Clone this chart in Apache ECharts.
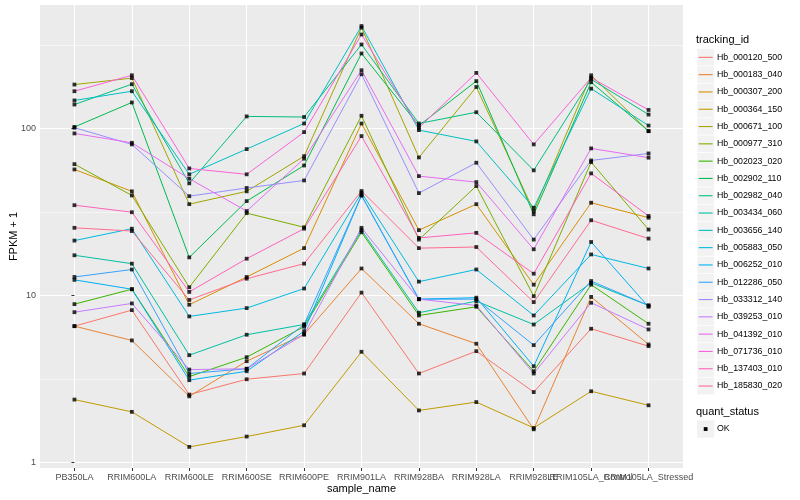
<!DOCTYPE html>
<html><head><meta charset="utf-8">
<script src="https://cdn.jsdelivr.net/npm/echarts@6/dist/echarts.min.js"></script>
<style>html,body{margin:0;padding:0;background:#fff}#c{width:800px;height:500px}</style>
</head><body><div id="c"></div>
<script>
const samples = ['PB350LA','RRIM600LA','RRIM600LE','RRIM600SE','RRIM600PE','RRIM901LA','RRIM928BA','RRIM928LA','RRIM928LE','RRIM105LA_Control','RRIM105LA_Stressed'];
const trackingIds = ['Hb_000120_500','Hb_000183_040','Hb_000307_200','Hb_000364_150','Hb_000671_100','Hb_000977_310','Hb_002023_020','Hb_002902_110','Hb_002982_040','Hb_003434_060','Hb_003656_140','Hb_005883_050','Hb_006252_010','Hb_012286_050','Hb_033312_140','Hb_039253_010','Hb_041392_010','Hb_071736_010','Hb_137403_010','Hb_185830_020'];
const quantStatus = ['OK'];
const yTicks = [1, 10, 100];
const yMinorTicks = [3.1623, 31.623, 316.23];

// FPKM + 1 per sample, in sample order
const Hb_000120_500 = [6.55, 8.17, 2.55, 3.15, 3.41, 10.4, 3.41, 4.64, 2.64, 6.32, 4.97];
const Hb_000183_040 = [6.55, 5.38, 2.49, 4.04, 5.84, 14.5, 6.77, 5.14, 1.58, 9.8, 5.09];
const Hb_000307_200 = [56.8, 42, 8.8, 12.9, 19.2, 107, 24.6, 35.2, 11.6, 35.9, 29.2];
const Hb_000364_150 = [2.38, 2.01, 1.24, 1.43, 1.67, 4.6, 2.05, 2.30, 1.61, 2.67, 2.20];
const Hb_000671_100 = [183, 200, 35.2, 42, 68.2, 401, 67, 177, 32, 208, 96.3];
const Hb_000977_310 = [61.1, 39.7, 11.2, 31.1, 25.6, 119, 21.6, 45.2, 9.9, 62.8, 24.8];
const Hb_002023_020 = [8.87, 10.9, 3.27, 4.27, 6.5, 23.9, 7.59, 8.55, 3.52, 11.6, 6.77];
const Hb_002902_110 = [102, 143, 16.9, 36.7, 60, 281, 104, 192, 30.6, 189, 96.3];
const Hb_002982_040 = [139, 184, 46.9, 118, 117, 318, 107, 125, 56.1, 197, 121];
const Hb_003434_060 = [17.4, 15.5, 4.39, 5.82, 6.7, 24.6, 7.88, 9.25, 6.7, 11.9, 8.71];
const Hb_003656_140 = [147, 167, 53.1, 75.2, 107, 410, 97.7, 83.6, 33.5, 173, 104];
const Hb_005883_050 = [21.3, 25.1, 7.49, 8.4, 11, 41.2, 12.1, 14.3, 7.59, 17.6, 14.5];
const Hb_006252_010 = [12.4, 10.9, 3.11, 3.52, 6.11, 39.7, 9.5, 9.7, 3.77, 20.9, 8.55];
const Hb_012286_050 = [12.9, 14.3, 3.41, 3.64, 6.7, 39.7, 9.5, 9.5, 5.04, 12.2, 8.71];
const Hb_033312_140 = [101, 80.2, 39.3, 44, 48.8, 211, 41, 62.3, 21.6, 64.3, 70.8];
const Hb_039253_010 = [7.94, 8.96, 3.6, 3.64, 5.84, 25.4, 9.5, 8.71, 3.41, 9.04, 6.26];
const Hb_041392_010 = [93.3, 82, 50, 32, 65.9, 223, 51.8, 47.7, 18.9, 75.9, 66.8];
const Hb_071736_010 = [167, 208, 57.6, 53.1, 95, 365, 101, 215, 80.2, 201, 129];
const Hb_137403_010 = [34.7, 31.5, 10.5, 16.6, 25.1, 90, 22.1, 23.7, 13.5, 53.8, 29.9];
const Hb_185830_020 = [25.4, 24.3, 9.4, 12.6, 15.5, 42.2, 19.2, 19.5, 9.12, 28.2, 21.9];

const seriesValues = [Hb_000120_500, Hb_000183_040, Hb_000307_200, Hb_000364_150, Hb_000671_100, Hb_000977_310, Hb_002023_020, Hb_002902_110, Hb_002982_040, Hb_003434_060, Hb_003656_140, Hb_005883_050, Hb_006252_010, Hb_012286_050, Hb_033312_140, Hb_039253_010, Hb_041392_010, Hb_071736_010, Hb_137403_010, Hb_185830_020];

const palette = ['#F8766D','#EA8331','#D89000','#C09B00','#A3A500','#7CAE00','#39B600','#00BB4E','#00BF7D','#00C1A3','#00BFC4','#00BAE0','#00B0F6','#35A2FF','#9590FF','#C77CFF','#E76BF3','#FA62DB','#FF62BC','#FF6C91'];

const FONT = '"Liberation Sans", Arial, Helvetica, sans-serif';
const chart = echarts.init(document.getElementById('c'), null, {renderer: 'canvas', width: 800, height: 500});

const idx = samples.map((_, i) => i);
// labels split over two axes so that overlapping neighbours are all drawn, as in the reference
const idxLabelsA = idx.filter(i => i !== 9);
const idxLabelsB = [9];

const lineSeries = trackingIds.map((id, k) => ({
  type: 'line', name: id,
  data: seriesValues[k].map((v, i) => [i, v]),
  showSymbol: false, symbol: 'none',
  lineStyle: {color: palette[k], width: 1},
  itemStyle: {color: palette[k]},
  silent: true, z: 2, animation: false
}));
const pts = [];
seriesValues.forEach(arr => arr.forEach((v, i) => pts.push([i, v])));
const pointSeries = {
  type: 'scatter', name: quantStatus[0], data: pts,
  symbol: 'rect', symbolSize: 3.8, itemStyle: {color: '#000'}, z: 3, silent: true, animation: false
};

// legend drawn from names and palette
const lgX = 697, lgY0 = 48.7, lgStep = 17.3;
const graphics = [];
graphics.push({type: 'text', left: lgX - 1, top: 34, style: {text: 'tracking_id', fontSize: 11, fontFamily: FONT, fill: '#000'}});
trackingIds.forEach((id, k) => {
  const y = lgY0 + k * lgStep;
  graphics.push({type: 'rect', shape: {x: lgX, y: y, width: lgStep, height: lgStep}, style: {fill: '#F2F2F2', stroke: '#fff', lineWidth: 0.6}, silent: true});
  graphics.push({type: 'line', shape: {x1: lgX + 1.7, y1: y + lgStep / 2, x2: lgX + lgStep - 1.7, y2: y + lgStep / 2}, style: {stroke: palette[k], lineWidth: 1.1}, silent: true});
  graphics.push({type: 'text', x: lgX + 20, y: y + lgStep / 2, style: {text: id, fontSize: 8.8, fontFamily: FONT, fill: '#000', textVerticalAlign: 'middle'}, silent: true});
});
const qY = 420.4;
graphics.push({type: 'text', left: lgX - 1, top: 406, style: {text: 'quant_status', fontSize: 11, fontFamily: FONT, fill: '#000'}});
graphics.push({type: 'rect', shape: {x: lgX, y: qY, width: lgStep, height: lgStep}, style: {fill: '#F2F2F2'}, silent: true});
graphics.push({type: 'rect', shape: {x: lgX + lgStep / 2 - 1.9, y: qY + lgStep / 2 - 1.9, width: 3.8, height: 3.8}, style: {fill: '#000'}, silent: true});
graphics.push({type: 'text', x: lgX + 20, y: qY + lgStep / 2, style: {text: quantStatus[0], fontSize: 8.8, fontFamily: FONT, fill: '#000', textVerticalAlign: 'middle'}, silent: true});

const xLabelStyle = {formatter: v => samples[Math.round(v)], color: '#4D4D4D', fontSize: 9, fontFamily: FONT, margin: 5, hideOverlap: false, showMinLabel: true, showMaxLabel: true};
const yMin = 0.927, yMax = 548;
const option = {
  animation: false,
  backgroundColor: '#ffffff',
  grid: {left: 40, top: 5, width: 643, height: 463, show: true, backgroundColor: '#EBEBEB', borderWidth: 0, containLabel: false, outerBoundsMode: 'none'},
  xAxis: [{
    type: 'value', min: -0.6, max: 10.6, position: 'bottom',
    axisLine: {show: false},
    axisTick: {show: true, length: 3, lineStyle: {color: '#333333', width: 1}, customValues: idx},
    axisLabel: Object.assign({customValues: idxLabelsA}, xLabelStyle),
    splitLine: {show: true, lineStyle: {color: '#ffffff', width: 1.1}},
    name: 'sample_name', nameLocation: 'middle', nameGap: 15.5, nameMoveOverlap: false,
    nameTextStyle: {fontSize: 11, color: '#000', fontFamily: FONT}
  }, {
    type: 'value', min: -0.6, max: 10.6, position: 'bottom', offset: 0,
    axisLine: {show: false},
    axisTick: {show: false, customValues: idxLabelsB},
    axisLabel: Object.assign({customValues: idxLabelsB}, xLabelStyle),
    splitLine: {show: false}
  }],
  yAxis: [{
    type: 'log', logBase: 10, min: yMin, max: yMax,
    axisLine: {show: false},
    axisTick: {show: true, length: 3, lineStyle: {color: '#333333', width: 1}, customValues: yTicks},
    axisLabel: {customValues: yTicks, formatter: v => String(Math.round(v)), color: '#4D4D4D', fontSize: 9, fontFamily: FONT, margin: 4, showMinLabel: true, showMaxLabel: true},
    splitLine: {show: true, lineStyle: {color: '#ffffff', width: 1.1}},
    minorTick: {show: false}, minorSplitLine: {show: false},
    name: 'FPKM + 1', nameLocation: 'middle', nameGap: 21, nameRotate: 90, nameMoveOverlap: false,
    nameTextStyle: {fontSize: 11, color: '#000', fontFamily: FONT}
  }, {
    type: 'log', logBase: 10, min: yMin, max: yMax, position: 'left',
    axisLine: {show: false},
    axisTick: {show: false, customValues: yMinorTicks},
    axisLabel: {show: false, customValues: yMinorTicks},
    splitLine: {show: true, lineStyle: {color: '#ffffff', width: 0.55}}
  }],
  series: lineSeries.concat([pointSeries]),
  graphic: graphics
};
chart.setOption(option);
</script>
</body></html>
